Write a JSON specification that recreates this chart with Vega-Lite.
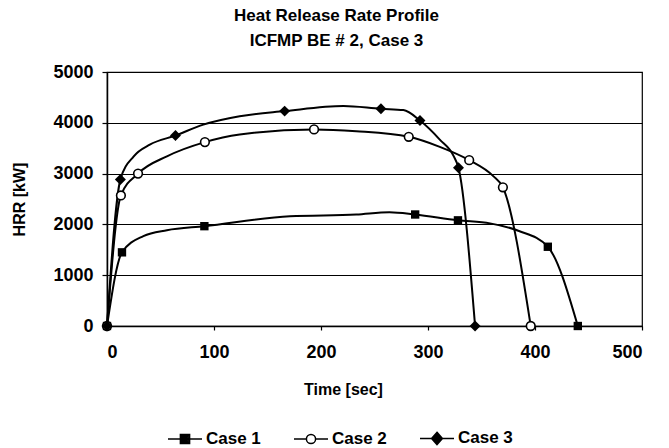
{
  "$schema": "https://vega.github.io/schema/vega-lite/v6.json",
  "width": 535,
  "height": 254,
  "autosize": {"type": "none"},
  "padding": {"left": 107, "top": 72, "right": 27, "bottom": 122},
  "background": "white",
  "title": {
    "text": ["Heat Release Rate Profile", "ICFMP BE # 2, Case 3"],
    "anchor": "middle",
    "dx": -38,
    "fontSize": 17,
    "fontWeight": "bold",
    "font": "Liberation Sans",
    "lineHeight": 25,
    "offset": 13,
    "color": "black"
  },
  "data": {
    "values": [
      {"case": "Case 1", "t": 0, "hrr": 0, "marker": true},
      {"case": "Case 1", "t": 14, "hrr": 1450, "marker": true},
      {"case": "Case 1", "t": 34, "hrr": 1770, "marker": false},
      {"case": "Case 1", "t": 56, "hrr": 1885, "marker": false},
      {"case": "Case 1", "t": 91, "hrr": 1965, "marker": true},
      {"case": "Case 1", "t": 171, "hrr": 2160, "marker": false},
      {"case": "Case 1", "t": 233, "hrr": 2195, "marker": false},
      {"case": "Case 1", "t": 264, "hrr": 2240, "marker": false},
      {"case": "Case 1", "t": 288, "hrr": 2195, "marker": true},
      {"case": "Case 1", "t": 328, "hrr": 2080, "marker": true},
      {"case": "Case 1", "t": 358, "hrr": 2020, "marker": false},
      {"case": "Case 1", "t": 385, "hrr": 1870, "marker": false},
      {"case": "Case 1", "t": 412, "hrr": 1560, "marker": true},
      {"case": "Case 1", "t": 440, "hrr": 0, "marker": true},
      {"case": "Case 2", "t": 0, "hrr": 0, "marker": true},
      {"case": "Case 2", "t": 13, "hrr": 2570, "marker": true},
      {"case": "Case 2", "t": 29, "hrr": 3000, "marker": true},
      {"case": "Case 2", "t": 56, "hrr": 3340, "marker": false},
      {"case": "Case 2", "t": 91.5, "hrr": 3620, "marker": true},
      {"case": "Case 2", "t": 124, "hrr": 3770, "marker": false},
      {"case": "Case 2", "t": 193.5, "hrr": 3870, "marker": true},
      {"case": "Case 2", "t": 233, "hrr": 3835, "marker": false},
      {"case": "Case 2", "t": 282, "hrr": 3725, "marker": true},
      {"case": "Case 2", "t": 311, "hrr": 3527, "marker": false},
      {"case": "Case 2", "t": 338.5, "hrr": 3265, "marker": true},
      {"case": "Case 2", "t": 361, "hrr": 2950, "marker": false},
      {"case": "Case 2", "t": 370, "hrr": 2730, "marker": true},
      {"case": "Case 2", "t": 396, "hrr": 0, "marker": true},
      {"case": "Case 3", "t": 0, "hrr": 0, "marker": true},
      {"case": "Case 3", "t": 12.5, "hrr": 2885, "marker": true},
      {"case": "Case 3", "t": 25, "hrr": 3340, "marker": false},
      {"case": "Case 3", "t": 40, "hrr": 3570, "marker": false},
      {"case": "Case 3", "t": 64, "hrr": 3750, "marker": true},
      {"case": "Case 3", "t": 90, "hrr": 3965, "marker": false},
      {"case": "Case 3", "t": 124, "hrr": 4130, "marker": false},
      {"case": "Case 3", "t": 166, "hrr": 4230, "marker": true},
      {"case": "Case 3", "t": 221, "hrr": 4330, "marker": false},
      {"case": "Case 3", "t": 256, "hrr": 4275, "marker": true},
      {"case": "Case 3", "t": 277, "hrr": 4250, "marker": false},
      {"case": "Case 3", "t": 292.5, "hrr": 4045, "marker": true},
      {"case": "Case 3", "t": 311, "hrr": 3670, "marker": false},
      {"case": "Case 3", "t": 324, "hrr": 3345, "marker": false},
      {"case": "Case 3", "t": 328.5, "hrr": 3114, "marker": true},
      {"case": "Case 3", "t": 344, "hrr": 0, "marker": true}
    ]
  },
  "encoding": {
    "x": {
      "field": "t",
      "type": "quantitative",
      "scale": {"domain": [0, 500], "nice": false, "zero": false},
      "axis": {
        "title": "Time [sec]",
        "values": [0, 100, 200, 300, 400, 500],
        "format": "d",
        "grid": false,
        "tickSize": 4,
        "labelPadding": 13,
        "titleX": 236,
        "titleY": 63,
        "titleBaseline": "middle",
        "titleAlign": "center",
        "titleAnchor": null
      }
    },
    "y": {
      "field": "hrr",
      "type": "quantitative",
      "scale": {"domain": [0, 5000], "nice": false},
      "axis": {
        "title": "HRR [kW]",
        "values": [0, 1000, 2000, 3000, 4000, 5000],
        "format": "d",
        "grid": true,
        "tickSize": 5,
        "labelPadding": 9,
        "titleX": -88,
        "titleY": 127,
        "titleAngle": -90,
        "titleBaseline": "middle",
        "titleAlign": "center",
        "titleAnchor": null
      }
    }
  },
  "layer": [
    {
      "mark": {"type": "line", "interpolate": "monotone", "color": "black", "strokeWidth": 2},
      "encoding": {"detail": {"field": "case", "type": "nominal"}}
    },
    {
      "transform": [{"filter": {"and": [{"field": "case", "equal": "Case 1"}, {"field": "marker", "equal": true}]}}],
      "mark": {"type": "point", "shape": "square", "filled": true, "color": "black", "size": 70, "opacity": 1}
    },
    {
      "transform": [{"filter": {"and": [{"field": "case", "equal": "Case 2"}, {"field": "marker", "equal": true}]}}],
      "mark": {"type": "point", "shape": "circle", "filled": true, "fill": "white", "stroke": "black", "strokeWidth": 1.6, "size": 75, "opacity": 1}
    },
    {
      "transform": [{"filter": {"and": [{"field": "case", "equal": "Case 3"}, {"field": "marker", "equal": true}]}}],
      "mark": {"type": "point", "shape": "diamond", "filled": true, "color": "black", "size": 120, "opacity": 1}
    },
    {
      "transform": [{"filter": {"field": "t", "equal": 0}}],
      "mark": {"type": "point", "filled": false, "stroke": "black", "opacity": 0},
      "encoding": {
        "shape": {
          "field": "case",
          "type": "nominal",
          "scale": {
            "domain": ["Case 1", "Case 2", "Case 3"],
            "range": [
              "M-1,0H1M-0.27,-0.27H0.27V0.27H-0.27ZM-0.18,-0.18H0.18V0.18H-0.18ZM-0.09,-0.09H0.09V0.09H-0.09Z",
              "M-1,0H-0.27M0.27,0H1M0.27,0A0.27,0.27 0 1 1 -0.27,0A0.27,0.27 0 1 1 0.27,0Z",
              "M-1,0H1M0,-0.36L0.32,0L0,0.36L-0.32,0ZM0,-0.24L0.21,0L0,0.24L-0.21,0ZM0,-0.12L0.11,0L0,0.12L-0.11,0ZM0,-0.3V0.3"
            ]
          },
          "legend": {
            "orient": "none",
            "legendX": 60,
            "legendY": 348,
            "direction": "horizontal",
            "title": null,
            "symbolSize": 1156,
            "labelFontSize": 17,
            "labelFont": "Liberation Sans",
            "labelFontWeight": "bold",
            "labelColor": "black",
            "labelOffset": 3,
            "columnPadding": 30,
            "encode": {
              "symbols": {
                "update": {
                  "stroke": {"value": "black"},
                  "strokeWidth": {"value": 1.7},
                  "fill": {"value": "white"},
                  "fillOpacity": {"value": 1},
                  "strokeOpacity": {"value": 1},
                  "opacity": {"value": 1}
                }
              }
            }
          }
        }
      }
    }
  ],
  "config": {
    "view": {"stroke": "black", "strokeWidth": 1.2},
    "axis": {
      "domainColor": "black",
      "domainWidth": 1.5,
      "tickColor": "black",
      "tickWidth": 1.2,
      "gridColor": "black",
      "gridWidth": 1.2,
      "gridOpacity": 1,
      "labelFont": "Liberation Sans",
      "labelFontSize": 18,
      "labelFontWeight": "bold",
      "labelColor": "black",
      "titleFont": "Liberation Sans",
      "titleFontSize": 16,
      "titleFontWeight": "bold",
      "titleColor": "black"
    }
  }
}
